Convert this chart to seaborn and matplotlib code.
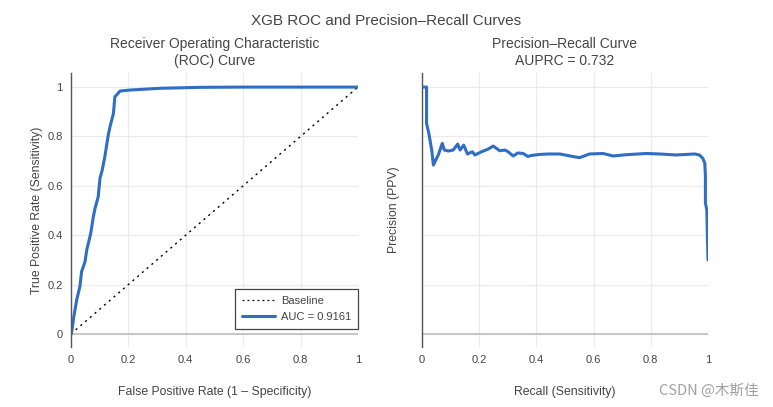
import matplotlib
matplotlib.use("Agg")
import matplotlib.pyplot as plt
import seaborn as sns
import pandas as pd
from matplotlib.lines import Line2D
from matplotlib.ticker import FuncFormatter

# ROC curve points
fpr = [0.0, 0.002, 0.010, 0.020, 0.031, 0.037, 0.049, 0.055, 0.069, 0.078,
       0.084, 0.095, 0.101, 0.109, 0.118, 0.130, 0.136, 0.148, 0.153, 0.159,
       0.171, 0.206, 0.308, 0.45, 0.6, 0.8, 1.0]
tpr = [0.0, 0.003, 0.070, 0.138, 0.191, 0.252, 0.293, 0.340, 0.408, 0.475,
       0.509, 0.556, 0.630, 0.664, 0.718, 0.806, 0.839, 0.893, 0.961, 0.968,
       0.984, 0.988, 0.995, 0.999, 1.0, 1.0, 1.0]
auc_value = 0.9161

# Precision-recall curve points
recall = [0.0, 0.016, 0.016, 0.024, 0.034, 0.040, 0.048, 0.057, 0.071, 0.078,
          0.092, 0.109, 0.125, 0.133, 0.146, 0.159, 0.176, 0.185, 0.208, 0.230,
          0.249, 0.272, 0.290, 0.301, 0.319, 0.335, 0.354, 0.370, 0.383, 0.410,
          0.441, 0.482, 0.517, 0.551, 0.586, 0.633, 0.668, 0.714, 0.784, 0.831,
          0.889, 0.953, 0.970, 0.982, 0.989, 0.991, 0.991, 0.996, 0.998, 1.0]
precision = [1.0, 1.0, 0.853, 0.812, 0.745, 0.684, 0.704, 0.725, 0.772, 0.745,
             0.741, 0.745, 0.769, 0.745, 0.765, 0.729, 0.738, 0.725, 0.738, 0.748,
             0.761, 0.742, 0.745, 0.738, 0.721, 0.733, 0.731, 0.719, 0.723, 0.727,
             0.729, 0.729, 0.721, 0.714, 0.729, 0.731, 0.721, 0.726, 0.731, 0.729,
             0.725, 0.729, 0.725, 0.711, 0.691, 0.637, 0.530, 0.502, 0.394, 0.30]
auprc_value = 0.732

ticks = [0, 0.2, 0.4, 0.6, 0.8, 1]

blue = "#2F6EC4"
text_color = "#444444"

sns.set_theme(style="whitegrid")
plt.rcParams["font.family"] = ["Liberation Sans", "DejaVu Sans"]
plt.rcParams["text.color"] = text_color
plt.rcParams["axes.labelcolor"] = text_color
plt.rcParams["xtick.color"] = text_color
plt.rcParams["ytick.color"] = text_color

fig = plt.figure(figsize=(7.73, 4.07), dpi=100)
ax1 = fig.add_axes([0.0918, 0.1474, 0.3712, 0.6732])
ax2 = fig.add_axes([0.5459, 0.1474, 0.3700, 0.6732])

roc_df = pd.DataFrame({"fpr": fpr, "tpr": tpr})
pr_df = pd.DataFrame({"recall": recall, "precision": precision})

fmt = FuncFormatter(lambda v, _: f"{v:g}")

for ax in (ax1, ax2):
    ax.set_xlim(0, 1)
    ax.set_ylim(-0.053, 1.057)
    ax.set_xticks(ticks)
    ax.set_yticks(ticks)
    ax.xaxis.set_major_formatter(fmt)
    ax.yaxis.set_major_formatter(fmt)
    ax.grid(True, color="#ebebeb", linewidth=0.9)
    ax.set_axisbelow(True)
    for side in ("top", "right", "bottom"):
        ax.spines[side].set_visible(False)
    ax.spines["left"].set_color("#555555")
    ax.spines["left"].set_linewidth(1.0)
    ax.axhline(0, color="#bdbdbd", linewidth=1.2, zorder=1)
    ax.tick_params(axis="both", length=0, labelsize=8, pad=6)

# ROC panel
ax1.plot([0, 1], [0, 1], color="black", linestyle=(0, (1.5, 3)), linewidth=1.0)
sns.lineplot(data=roc_df, x="fpr", y="tpr", ax=ax1, color=blue, linewidth=2.2,
             estimator=None, sort=False)
ax1.set_title("Receiver Operating Characteristic\n(ROC) Curve", fontsize=10,
              color=text_color, pad=6, linespacing=1.25)
ax1.set_xlabel("False Positive Rate (1 – Specificity)", fontsize=8.8, labelpad=15)
ax1.set_ylabel("True Positive Rate (Sensitivity)", fontsize=8.8, labelpad=3)
handles = [
    Line2D([], [], color="black", linestyle=(0, (1.5, 2.5)), linewidth=0.9),
    Line2D([], [], color=blue, linewidth=2.2),
]
leg = ax1.legend(handles, ["Baseline", f"AUC = {auc_value}"], loc="lower right",
                 bbox_to_anchor=(1.0, 0.066), borderaxespad=0, fontsize=8,
                 frameon=True, fancybox=False, framealpha=1, handlelength=3.0,
                 borderpad=0.6, labelspacing=0.6, handletextpad=0.5)
leg.get_frame().set_edgecolor("#444444")
leg.get_frame().set_linewidth(0.9)

# Precision-recall panel
sns.lineplot(data=pr_df, x="recall", y="precision", ax=ax2, color=blue,
             linewidth=2.2, estimator=None, sort=False)
ax2.set_title(f"Precision–Recall Curve\nAUPRC = {auprc_value}", fontsize=10,
              color=text_color, pad=6, linespacing=1.25)
ax2.set_xlabel("Recall (Sensitivity)", fontsize=8.8, labelpad=15)
ax2.set_ylabel("Precision (PPV)", fontsize=8.8, labelpad=10)
ax2.set_yticklabels([])

fig.suptitle("XGB ROC and Precision–Recall Curves", fontsize=11,
             color=text_color, y=0.965)
fig.text(0.982, 0.04, "CSDN @木斯佳", ha="right", va="center", fontsize=10.5,
         color="#a0a0a0", family=["Noto Sans CJK SC", "DejaVu Sans"])

fig.savefig("out.png", dpi=100)
